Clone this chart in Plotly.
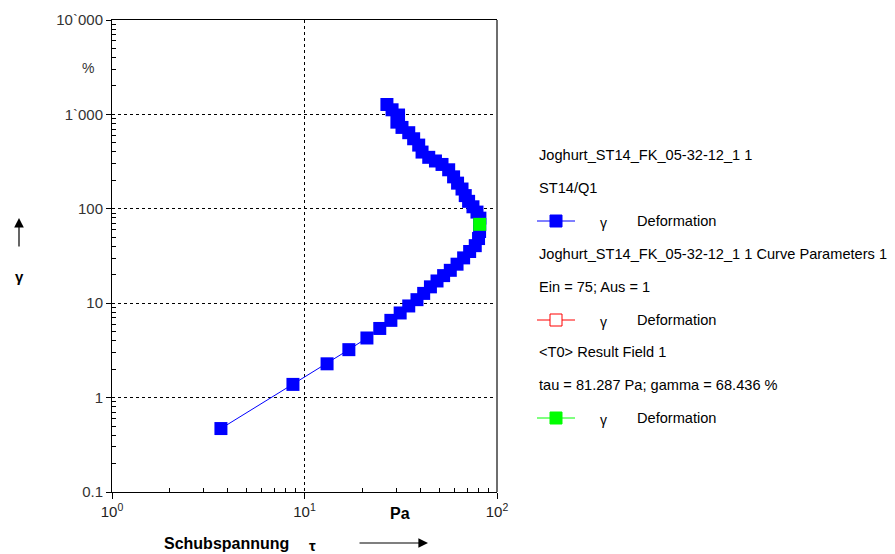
import plotly.graph_objects as go

# ---- data ----
tau = [3.68, 8.71, 13.1, 17.0, 21.1, 24.6, 28.1, 31.4, 34.8, 38.4, 41.6, 45.1, 48.8,
       52.8, 57.2, 62.0, 67.1, 72.1, 77.1, 80.2, 81.2, 81.3, 81.5, 78.7, 75.0, 71.2,
       68.4, 65.8, 62.4, 59.5, 56.1, 51.8, 47.9, 44.2, 40.8, 39.2, 36.9, 34.8, 32.1,
       30.2, 30.8, 28.5, 26.8]
gamma = [0.47, 1.38, 2.28, 3.22, 4.28, 5.4, 6.58, 7.88, 9.35, 10.9, 12.7, 14.9, 17.2,
         19.6, 22.3, 25.9, 30.2, 35.3, 40.7, 48.4, 57.5, 68.4, 79.6, 92.3, 105, 120,
         138, 162, 187, 218, 259, 295, 321, 351, 399, 473, 552, 640, 728, 828, 985,
         1119, 1273]
result_tau = [81.287]
result_gamma = [68.436]

x_tickvals = [1, 10, 100]
x_ticktext = ["10<sup>0</sup>", "10<sup>1</sup>", "10<sup>2</sup>"]
y_tickvals = [0.1, 1, 10, 100, 1000, 10000]
y_ticktext = ["0.1", "1", "10", "100", "1`000", "10`000"]

legend_rows = [
    ("text", "Joghurt_ST14_FK_05-32-12_1 1"),
    ("text", "ST14/Q1"),
    ("sym", "blue"),
    ("text", "Joghurt_ST14_FK_05-32-12_1 1 Curve Parameters 1"),
    ("text", "Ein = 75; Aus = 1"),
    ("sym", "red"),
    ("text", "&lt;T0&gt; Result Field 1"),
    ("text", "tau = 81.287 Pa; gamma = 68.436 %"),
    ("sym", "green"),
]

FONT = "Liberation Sans, Arial, sans-serif"
W, H = 895, 554
L, R, T, B = 112, 398, 20, 62
PW, PH = W - L - R, H - T - B


def px(x):
    return (x - L) / PW


def py(y):
    return (H - B - y) / PH


fig = go.Figure()
fig.add_trace(go.Scatter(
    x=tau, y=gamma, mode="lines+markers",
    line=dict(color="#0000ff", width=1),
    marker=dict(symbol="square", size=13, color="#0000ff", line=dict(width=0)),
    showlegend=False, cliponaxis=False,
))
fig.add_trace(go.Scatter(
    x=result_tau, y=result_gamma, mode="markers",
    marker=dict(symbol="square", size=13, color="#00ff00", line=dict(width=0)),
    showlegend=False,
))

minor_x = [v * m for v in (1, 10) for m in range(2, 10)]
minor_y = [v * m for v in (0.1, 1, 10, 100, 1000) for m in range(2, 10)]

fig.update_xaxes(
    type="log", range=[0, 2],
    tickvals=x_tickvals, ticktext=x_ticktext,
    ticks="outside", ticklen=6, tickcolor="#000",
    showline=True, linecolor="#000", linewidth=1, mirror=True,
    showgrid=True, gridcolor="#000", griddash="3px,3px", gridwidth=1,
    tickfont=dict(family=FONT, size=15, color="#222"),
    minor=dict(tickvals=minor_x, ticks="inside", ticklen=4, tickcolor="#000", showgrid=False),
    zeroline=False,
)
fig.update_yaxes(
    type="log", range=[-1, 4],
    tickvals=y_tickvals, ticktext=y_ticktext,
    ticks="outside", ticklen=5, tickcolor="#000",
    showline=True, linecolor="#000", linewidth=1, mirror=False,
    showgrid=True, gridcolor="#000", griddash="3px,3px", gridwidth=1,
    tickfont=dict(family=FONT, size=15, color="#333"),
    minor=dict(tickvals=minor_y, ticks="inside", ticklen=4, tickcolor="#000", showgrid=False),
    zeroline=False,
)

ann = []
shapes = []

# grey right frame edge
shapes.append(dict(type="line", xref="paper", yref="paper", x0=1, x1=1, y0=0, y1=1,
                   line=dict(color="#6e6e6e", width=2)))


def label(text, x, y, size=15, color="#000", xanchor="center"):
    ann.append(dict(text=text, x=px(x), y=py(y), xref="paper", yref="paper",
                    xanchor=xanchor, yanchor="middle", showarrow=False,
                    font=dict(family=FONT, size=size, color=color)))


def arrow(x, y, ax, ay):
    ann.append(dict(text="", x=px(x), y=py(y), xref="paper", yref="paper",
                    xanchor="center", yanchor="middle",
                    showarrow=True, ax=ax, ay=ay, arrowhead=2, arrowsize=1.6,
                    arrowwidth=1.2, arrowcolor="#000"))


# axis decorations
label("<b>Schubspannung</b>", 226, 543, size=16)
label("<b>τ</b>", 312, 545, size=15)
label("<b>Pa</b>", 400, 513, size=16)
arrow(428, 543, -70, 0)
label("%", 88, 68, size=14, color="#333")
arrow(19, 218, 0, 30)
label("<b>γ</b>", 19, 276, size=15)

# legend drawn as text + shapes
row_y = [155, 188, 221, 254, 287, 320, 352, 385, 418]
sym_colors = {"blue": "#0000ff", "red": "#ff0000", "green": "#00ff00"}
for (kind, val), yy in zip(legend_rows, row_y):
    if kind == "text":
        label(val, 537, yy, size=14.6, xanchor="left")
    else:
        c = sym_colors[val]
        shapes.append(dict(type="line", xref="paper", yref="paper",
                           x0=px(537), x1=px(575), y0=py(yy), y1=py(yy),
                           line=dict(color=c, width=1)))
        fill = "#ffffff" if val == "red" else c
        shapes.append(dict(type="rect", xref="paper", yref="paper",
                           xsizemode="pixel", ysizemode="pixel",
                           xanchor=px(556), yanchor=py(yy),
                           x0=-6, x1=6, y0=-6, y1=6,
                           fillcolor=fill, line=dict(color=c, width=1)))
        label("γ", 603, yy + 2, size=14)
        label("Deformation", 635, yy, size=14.6, xanchor="left")

fig.update_layout(
    width=W, height=H,
    margin=dict(l=L, r=R, t=T, b=B),
    paper_bgcolor="#fff", plot_bgcolor="#fff",
    showlegend=False,
    annotations=ann, shapes=shapes,
    font=dict(family=FONT),
)

fig.write_html("out.html", config={"displayModeBar": False},
               post_script="document.body.style.margin='0';")
